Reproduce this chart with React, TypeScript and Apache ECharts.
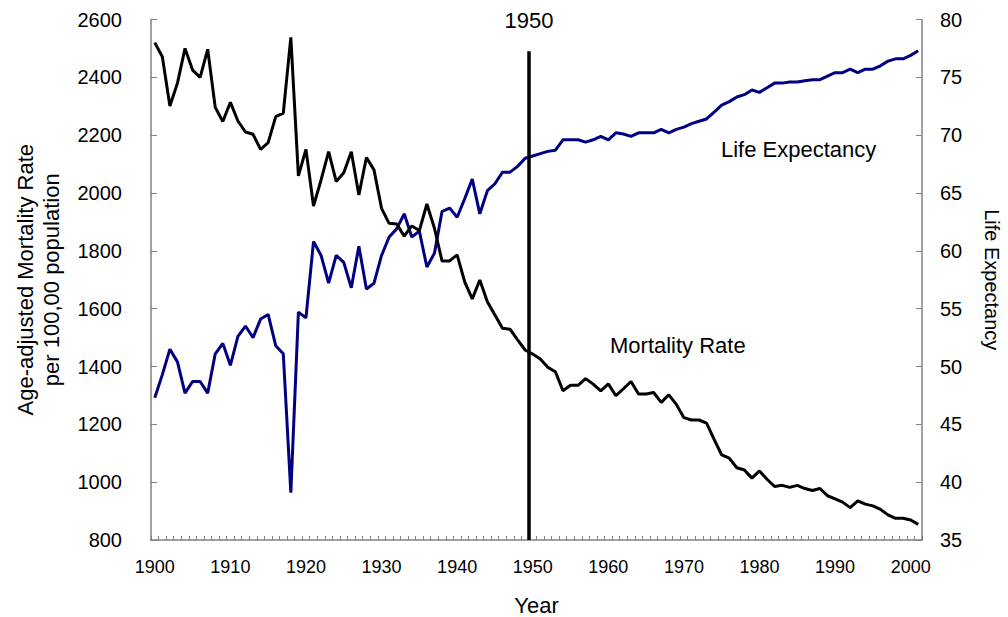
import React, { useEffect, useRef } from "react";
import * as echarts from "echarts";

const firstYear = 1900;
const lastYear = 2001;
const years: string[] = [];
for (let y = firstYear; y <= lastYear; y++) years.push(String(y));

const mortality = [
  2520, 2471, 2301, 2380, 2500, 2425, 2400, 2497, 2296, 2247,
  2314, 2249, 2211, 2203, 2151, 2174, 2264, 2276, 2538, 2059,
  2151, 1955, 2045, 2143, 2040, 2070, 2143, 1993, 2123, 2080,
  1947, 1895, 1893, 1851, 1886, 1870, 1962, 1878, 1765, 1765,
  1786, 1693, 1634, 1699, 1624, 1578, 1532, 1529, 1492, 1457,
  1443, 1426, 1397, 1382, 1316, 1335, 1335, 1358, 1339, 1316,
  1340, 1299, 1323, 1348, 1305, 1305, 1310, 1276, 1302, 1269,
  1223, 1215, 1215, 1204, 1148, 1094, 1083, 1050, 1042, 1014,
  1039, 1010, 985, 989, 982, 989, 978, 971, 978, 953,
  942, 931, 912, 935, 924, 918, 906, 887, 875, 875,
  869, 854,
];

const lifeExpectancy = [
  47.3, 49.3, 51.5, 50.4, 47.7, 48.7, 48.7, 47.7, 51.1, 52.0,
  50.1, 52.6, 53.5, 52.5, 54.1, 54.5, 51.8, 51.1, 39.1, 54.7,
  54.2, 60.8, 59.6, 57.2, 59.6, 59.0, 56.8, 60.4, 56.7, 57.2,
  59.6, 61.2, 61.9, 63.2, 61.2, 61.7, 58.6, 59.8, 63.4, 63.7,
  62.9, 64.5, 66.2, 63.2, 65.2, 65.8, 66.8, 66.8, 67.3, 68.0,
  68.2, 68.4, 68.6, 68.7, 69.6, 69.6, 69.6, 69.4, 69.6, 69.9,
  69.6, 70.2, 70.1, 69.9, 70.2, 70.2, 70.2, 70.5, 70.2, 70.5,
  70.7, 71.0, 71.2, 71.4, 72.0, 72.6, 72.9, 73.3, 73.5, 73.9,
  73.7, 74.1, 74.5, 74.5, 74.6, 74.6, 74.7, 74.8, 74.8, 75.1,
  75.4, 75.4, 75.7, 75.4, 75.7, 75.7, 76.0, 76.4, 76.6, 76.6,
  76.9, 77.3,
];

const markerYear = 1950;
const markerTop = 2490;

const FONT = "'Liberation Sans', Arial, Helvetica, sans-serif";
const AXIS_GRAY = "#808080";

export default function App() {
  const ref = useRef<HTMLDivElement>(null);

  useEffect(() => {
    if (!ref.current) return;
    const chart = echarts.init(ref.current, undefined, { renderer: "svg" });
    chart.setOption({
      animation: false,
      backgroundColor: "#ffffff",
      textStyle: { fontFamily: FONT, color: "#000" },
      grid: {
        left: 151,
        right: 86,
        top: 19.5,
        bottom: 77,
        containLabel: false,
        outerBoundsMode: "none",
      },
      xAxis: [
        {
          type: "category",
          data: years,
          boundaryGap: true,
          name: "Year",
          nameLocation: "middle",
          nameGap: 54,
          nameTextStyle: { fontSize: 22, color: "#000", fontFamily: FONT },
          axisLine: { lineStyle: { color: AXIS_GRAY, width: 1.5 } },
          axisTick: { show: true, inside: true, interval: 0, length: 4, alignWithLabel: false, lineStyle: { color: AXIS_GRAY } },
          axisLabel: { interval: 9, fontSize: 18, color: "#000", margin: 18, fontFamily: FONT },
          splitLine: { show: false },
        },
        {
          type: "value",
          min: firstYear - 0.5,
          max: lastYear + 0.5,
          show: false,
        },
      ],
      yAxis: [
        {
          type: "value",
          min: 800,
          max: 2600,
          interval: 200,
          position: "left",
          name: "Age-adjusted Mortality Rate\nper 100,00 population",
          nameLocation: "middle",
          nameRotate: 90,
          nameGap: 87,
          nameTextStyle: { fontSize: 22, lineHeight: 26, color: "#000", fontFamily: FONT, align: "center" },
          axisLine: { show: true, lineStyle: { color: AXIS_GRAY, width: 1.5 } },
          axisTick: { show: true, inside: true, length: 6, lineStyle: { color: AXIS_GRAY } },
          axisLabel: { fontSize: 20, color: "#000", margin: 29, fontFamily: FONT, formatter: (v: number) => String(v) },
          splitLine: { show: false },
        },
        {
          type: "value",
          min: 35,
          max: 80,
          interval: 5,
          position: "right",
          name: "Life Expectancy",
          nameLocation: "middle",
          nameRotate: -90,
          nameGap: 60,
          nameTextStyle: { fontSize: 20, color: "#000", fontFamily: FONT },
          axisLine: { show: true, lineStyle: { color: AXIS_GRAY, width: 1.5 } },
          axisTick: { show: true, inside: true, length: 6, lineStyle: { color: AXIS_GRAY } },
          axisLabel: { fontSize: 20, color: "#000", margin: 18, fontFamily: FONT, formatter: (v: number) => String(v) },
          splitLine: { show: false },
        },
      ],
      series: [
        {
          name: "Life Expectancy",
          type: "line",
          xAxisIndex: 0,
          yAxisIndex: 1,
          data: lifeExpectancy,
          symbol: "none",
          lineStyle: { color: "#000080", width: 3 },
          itemStyle: { color: "#000080" },
          z: 2,
        },
        {
          name: "Mortality Rate",
          type: "line",
          xAxisIndex: 0,
          yAxisIndex: 0,
          data: mortality,
          symbol: "none",
          lineStyle: { color: "#000000", width: 3 },
          itemStyle: { color: "#000000" },
          z: 3,
        },
        {
          name: "marker",
          type: "line",
          xAxisIndex: 1,
          yAxisIndex: 0,
          data: [],
          symbol: "none",
          z: 4,
          markLine: {
            silent: true,
            symbol: ["none", "none"],
            lineStyle: { color: "#000", width: 3.5, type: "solid" },
            label: {
              show: true,
              position: "end",
              formatter: String(markerYear),
              fontSize: 22,
              color: "#000",
              fontFamily: FONT,
              distance: 20,
            },
            data: [
              [
                { coord: [markerYear - 0.5, 800] },
                { coord: [markerYear - 0.5, markerTop] },
              ],
            ],
          },
        },
      ],
      graphic: [
        {
          type: "text",
          left: 721,
          top: 138,
          style: { text: "Life Expectancy", fontSize: 22, fill: "#000", fontFamily: FONT },
        },
        {
          type: "text",
          left: 610,
          top: 334,
          style: { text: "Mortality Rate", fontSize: 22, fill: "#000", fontFamily: FONT },
        },
      ],
    });
    return () => chart.dispose();
  }, []);

  return (
    <div
      ref={ref}
      style={{ position: "fixed", left: 0, top: 0, width: 1008, height: 617, background: "#fff" }}
    />
  );
}
